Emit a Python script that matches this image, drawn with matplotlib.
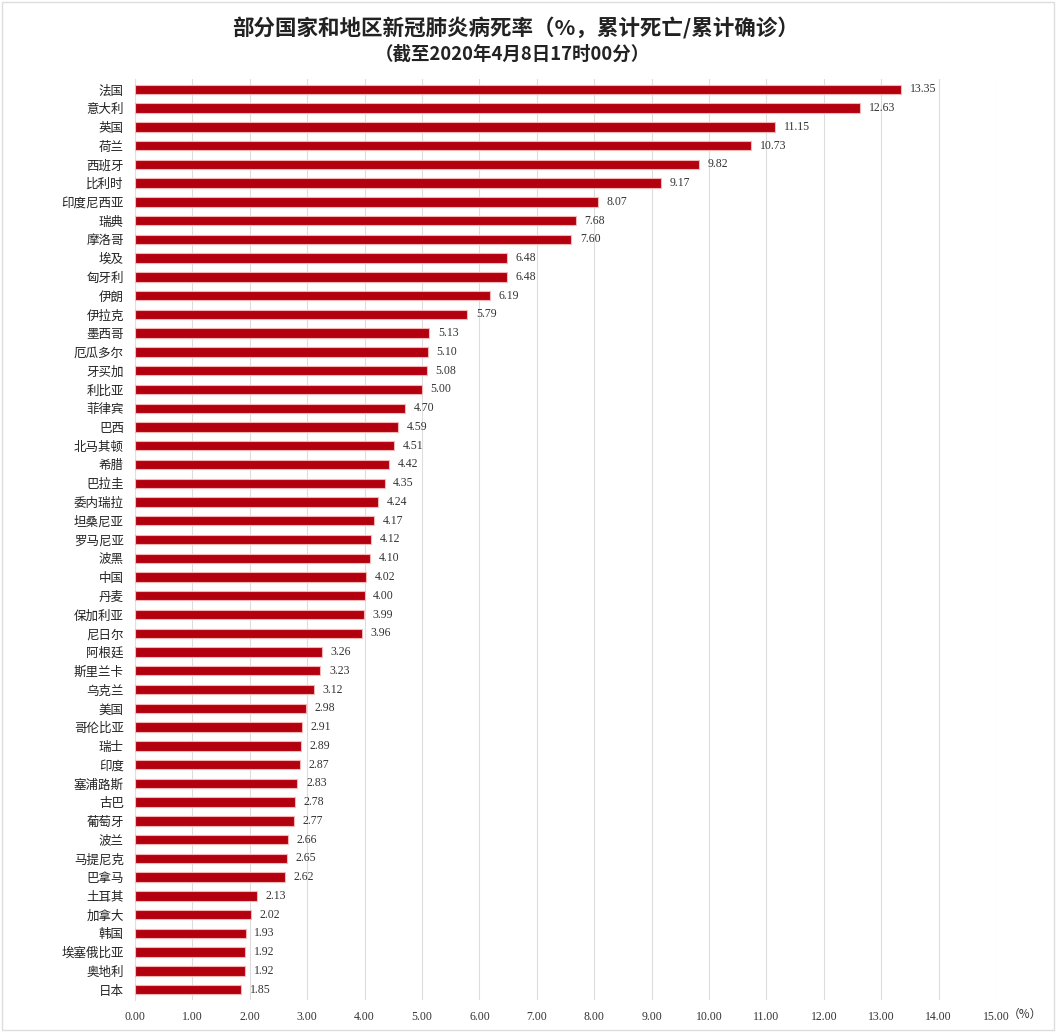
import matplotlib
matplotlib.use("Agg")
import matplotlib.pyplot as plt
from matplotlib.patches import Rectangle

countries = ["法国", "意大利", "英国", "荷兰", "西班牙", "比利时", "印度尼西亚", "瑞典", "摩洛哥",
             "埃及", "匈牙利", "伊朗", "伊拉克", "墨西哥", "厄瓜多尔", "牙买加", "利比亚", "菲律宾",
             "巴西", "北马其顿", "希腊", "巴拉圭", "委内瑞拉", "坦桑尼亚", "罗马尼亚", "波黑", "中国",
             "丹麦", "保加利亚", "尼日尔", "阿根廷", "斯里兰卡", "乌克兰", "美国", "哥伦比亚", "瑞士",
             "印度", "塞浦路斯", "古巴", "葡萄牙", "波兰", "马提尼克", "巴拿马", "土耳其", "加拿大",
             "韩国", "埃塞俄比亚", "奥地利", "日本"]
rates = [13.35, 12.63, 11.15, 10.73, 9.82, 9.17, 8.07, 7.68, 7.60,
         6.48, 6.48, 6.19, 5.79, 5.13, 5.10, 5.08, 5.00, 4.70,
         4.59, 4.51, 4.42, 4.35, 4.24, 4.17, 4.12, 4.10, 4.02,
         4.00, 3.99, 3.96, 3.26, 3.23, 3.12, 2.98, 2.91, 2.89,
         2.87, 2.83, 2.78, 2.77, 2.66, 2.65, 2.62, 2.13, 2.02,
         1.93, 1.92, 1.92, 1.85]
xticks = [0, 1, 2, 3, 4, 5, 6, 7, 8, 9, 10, 11, 12, 13, 14, 15]
title1 = "部分国家和地区新冠肺炎病死率（%，累计死亡/累计确诊）"
title2 = "（截至2020年4月8日17时00分）"

plt.rcParams['font.family'] = ['Liberation Serif', 'Noto Sans CJK SC', 'DejaVu Sans']

fig = plt.figure(figsize=(10.56, 10.32), dpi=100)
W, H = 1056, 1032
ax = fig.add_axes([135 / W, 1 - 1000 / H, (996 - 135) / W, (1000 - 79) / H])

n = len(countries)
ypos = list(range(n))
ax.barh(ypos, rates, height=0.5, color='#B3000F', edgecolor='#F5B5B5', linewidth=0.8, zorder=3)
ax.set_ylim(n - 0.45, -0.55)
ax.set_xlim(0, 15)
ax.set_yticks(ypos)
ax.set_yticklabels(countries, fontsize=9, family=['Noto Sans CJK SC'], color='#222222')
ax.set_xticks(xticks)
ax.set_xticklabels([f"{t:.2f}" for t in xticks], fontsize=8.5, color='#333333')
ax.tick_params(axis='y', length=0, pad=8)
ax.tick_params(axis='x', length=0, pad=8)
ax.grid(axis='x', color='#DDDDDD', linewidth=0.8, zorder=0)
for s in ['top', 'right', 'bottom']:
    ax.spines[s].set_visible(False)
ax.spines['left'].set_color('#E0E0E0')
ax.spines['left'].set_linewidth(0.8)

for y, v in zip(ypos, rates):
    ax.text(v + 0.15, y, f"{v:.2f}", va='center', ha='left', fontsize=8.5, color='#333333')

fig.text(1008 / W, 1 - 1014 / H, "（%）", fontsize=8.5, family=['Noto Sans CJK SC'],
         ha='left', va='center', color='#333333')

fig.text(515 / W, 1 - 28 / H, title1, fontsize=15.5, fontweight='bold', ha='center', va='center',
         family=['Noto Sans CJK SC'], color='#222222')
fig.text(512 / W, 1 - 54 / H, title2, fontsize=13.3, fontweight='bold', ha='center', va='center',
         family=['Noto Sans CJK SC', 'Liberation Serif'], color='#222222')

fig.patches.append(Rectangle((2 / W, 2 / H), 1 - 4 / W, 1 - 4 / H, transform=fig.transFigure,
                             fill=False, edgecolor='#DDDDDD', linewidth=1))

fig.savefig("out.png", dpi=100, facecolor='white')
